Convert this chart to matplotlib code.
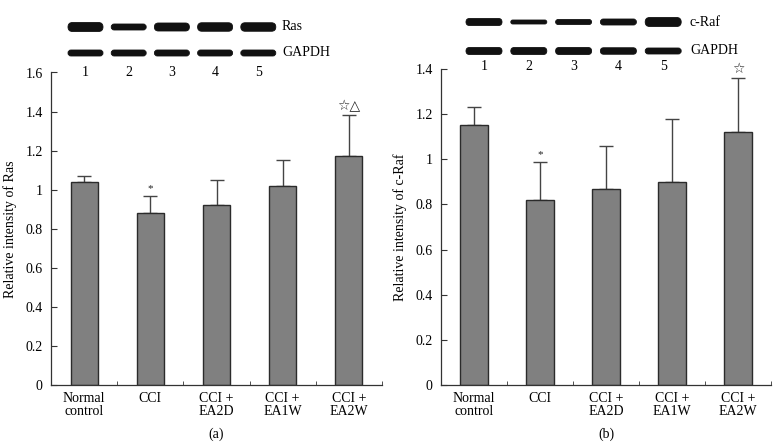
import matplotlib
matplotlib.use("Agg")
import matplotlib.pyplot as plt
from matplotlib.patches import FancyBboxPatch

plt.rcParams["font.family"] = ["Liberation Serif", "DejaVu Sans"]
plt.rcParams["font.size"] = 8.5

groups = ["Normal\ncontrol", "CCI", "CCI +\nEA2D", "CCI +\nEA1W", "CCI +\nEA2W"]

ras_mean = [1.04, 0.88, 0.92, 1.02, 1.17]
ras_err = [0.03, 0.09, 0.13, 0.13, 0.21]
ras_marks = ["", "*", "", "", "\u2606\u25b3"]

raf_mean = [1.15, 0.82, 0.87, 0.90, 1.12]
raf_err = [0.08, 0.17, 0.19, 0.28, 0.24]
raf_marks = ["", "*", "", "", "\u2606"]

# band thickness (px) of the western blots, lanes 1-5
ras_band = [9, 6, 8, 8.5, 8.5]
ras_gapdh = [6, 6, 6, 6, 6]
raf_band = [7, 4, 5, 6, 9]
raf_gapdh = [7, 7, 7, 6.5, 6]
lanes = ["1", "2", "3", "4", "5"]

fig = plt.figure(figsize=(7.8, 4.48), dpi=100)

axc = "#333333"


def bar_panel(rect, mean, err, marks, ymax, yticks, ylabel, tag):
    ax = fig.add_axes(rect)
    x = range(len(mean))
    ax.bar(x, mean, width=0.41, color="#808080", edgecolor="#2b2b2b", linewidth=1.0, zorder=2)
    ax.errorbar(x, mean, yerr=[[0] * len(err), err], fmt="none", ecolor="#444444",
                elinewidth=1.0, capsize=5, capthick=1.0, zorder=1)
    for xi, m, e, s in zip(x, mean, err, marks):
        if s:
            fs = 8 if s == "*" else 10
            ax.text(xi, m + e + 0.01, s, ha="center", va="bottom", fontsize=fs, color="#222222")
    ax.set_xlim(-0.5, len(mean) - 0.5)
    ax.set_ylim(0, ymax)
    ax.set_yticks(yticks)
    ax.set_yticklabels([("%g" % t) for t in yticks], fontsize=10)
    ax.set_xticks(list(x))
    ax.set_xticklabels(groups, fontsize=10, linespacing=1.0)
    ax.tick_params(axis="x", which="major", length=0, pad=5)
    ax.set_xticks([i + 0.5 for i in x], minor=True)
    ax.tick_params(axis="x", which="minor", direction="in", length=3, color=axc)
    ax.tick_params(axis="y", direction="in", length=4, color=axc, pad=6)
    for s in ["top", "right"]:
        ax.spines[s].set_visible(False)
    for s in ["left", "bottom"]:
        ax.spines[s].set_color(axc)
        ax.spines[s].set_linewidth(0.9)
    ax.set_ylabel(ylabel, fontsize=10, labelpad=6)
    ax.annotate(tag, xy=(0.5, 0), xycoords="axes fraction", xytext=(0, -49),
                textcoords="offset pixels", ha="center", va="center", fontsize=10)
    return ax


bar_panel([51 / 780, 1 - 385 / 448, 331 / 780, 312.5 / 448], ras_mean, ras_err, ras_marks, 1.6,
          [0, 0.2, 0.4, 0.6, 0.8, 1, 1.2, 1.4, 1.6], "Relative intensity of Ras", "(a)")
bar_panel([441 / 780, 1 - 385 / 448, 330 / 780, 316 / 448], raf_mean, raf_err, raf_marks, 1.4,
          [0, 0.2, 0.4, 0.6, 0.8, 1, 1.2, 1.4], "Relative intensity of c-Raf", "(b)")

# blot overlay in pixel coordinates
ov = fig.add_axes([0, 0, 1, 1])
ov.set_xlim(0, 780)
ov.set_ylim(448, 0)
ov.axis("off")


def blot(x0, step, bw, rows, names, label_x, num_y):
    for (yc, thick), name in zip(rows, names):
        for i, t in enumerate(thick):
            cx = x0 + i * step
            p = FancyBboxPatch((cx - bw / 2, yc - t / 2), bw, t,
                               boxstyle="round,pad=0,rounding_size=%g" % (t / 2),
                               facecolor="#111111", edgecolor="#111111", linewidth=0.6)
            ov.add_patch(p)
        ov.text(label_x, yc, name, ha="left", va="center", fontsize=10)
    for i, s in enumerate(lanes):
        ov.text(x0 + i * step, num_y, s, ha="center", va="center", fontsize=10)


blot(85.5, 43.2, 35, [(27, ras_band), (53, ras_gapdh)], ["Ras", "GAPDH"], 282, 72)
blot(484, 44.8, 36, [(22, raf_band), (51, raf_gapdh)], ["c-Raf", "GAPDH"], 690, 67)

fig.savefig("out.png", dpi=100)
